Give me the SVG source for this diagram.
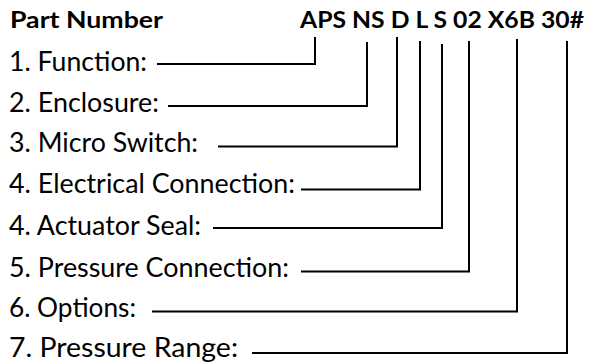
<svg xmlns="http://www.w3.org/2000/svg" width="590" height="364" viewBox="0 0 590 364">
<style>
text{font-family:Lato,"Open Sans","Liberation Sans",sans-serif;font-size:26px;fill:#000}
.b{font-weight:bold;font-size:23px}
.c{fill:none;stroke:#000;stroke-width:2;stroke-linejoin:miter}
</style>
<rect width="590" height="364" fill="#fff"/>
<g id="header">
<text class="b" x="10" y="28" textLength="153" lengthAdjust="spacingAndGlyphs">Part Number</text>
<text class="b" x="300" y="28" textLength="284" lengthAdjust="spacingAndGlyphs">APS NS D L S 02 X6B 30#</text>
</g>
<g id="function"><text x="9" y="71" textLength="138" lengthAdjust="spacingAndGlyphs">1. Function:</text></g>
<g id="enclosure"><text x="9" y="112" textLength="150" lengthAdjust="spacingAndGlyphs">2. Enclosure:</text></g>
<g id="micro-switch"><text x="9" y="152" textLength="189" lengthAdjust="spacingAndGlyphs">3. Micro Switch:</text></g>
<g id="electrical-connection"><text x="9" y="193" textLength="286" lengthAdjust="spacingAndGlyphs">4. Electrical Connection:</text></g>
<g id="actuator-seal"><text x="9" y="235" textLength="192" lengthAdjust="spacingAndGlyphs">4. Actuator Seal:</text></g>
<g id="pressure-connection"><text x="9" y="277" textLength="280" lengthAdjust="spacingAndGlyphs">5. Pressure Connection:</text></g>
<g id="options"><text x="9" y="317" textLength="127" lengthAdjust="spacingAndGlyphs">6. Options:</text></g>
<g id="pressure-range"><text x="9" y="357" textLength="229" lengthAdjust="spacingAndGlyphs">7. Pressure Range:</text></g>
<g id="connectors">
<path class="c" d="M157,64 H315 V37"/>
<path class="c" d="M168,106 H367 V42"/>
<path class="c" d="M218,146.5 H397 V37"/>
<path class="c" d="M301,189.5 H420 V41"/>
<path class="c" d="M213,228 H442 V44"/>
<path class="c" d="M301,271.5 H469 V41"/>
<path class="c" d="M152,311.5 H517 V39"/>
<path class="c" d="M252,353 H567 V41"/>
</g>
</svg>
